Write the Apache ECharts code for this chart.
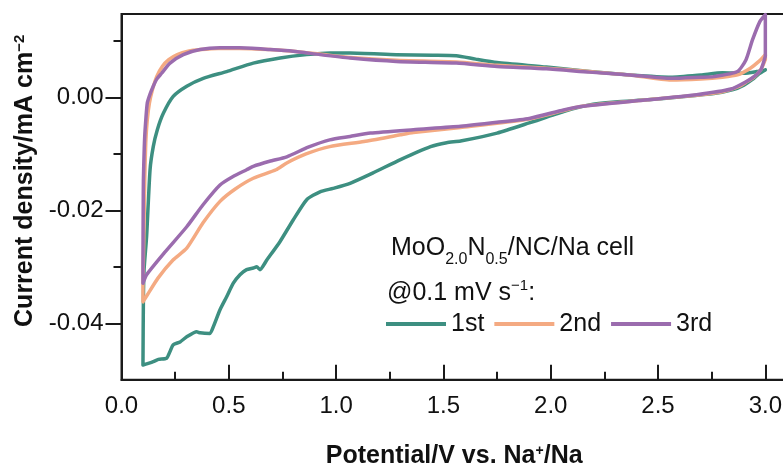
<!DOCTYPE html>
<html><head><meta charset="utf-8">
<script src="https://cdn.jsdelivr.net/npm/echarts@6/dist/echarts.min.js"></script>
<style>html,body{margin:0;padding:0;background:#fff}#c{width:783px;height:463px}</style>
</head><body><div id="c"></div>
<script>
// ---------- data ----------
const cycleNames = ['1st', '2nd', '3rd'];
const cycleColors = ['#3d8f81', '#f4aa82', '#9b6cae'];

// Cycle 1: cathodic 3.0 -> 0.1 V, then anodic 0.1 -> 3.0 V
const cycle1Potential = [3.00,2.97,2.94,2.90,2.85,2.76,2.60,2.45,2.30,2.18,2.06,1.90,1.75,1.58,1.515,1.44,1.30,1.17,1.065,0.986,0.925,0.863,0.80,0.739,0.677,0.645,0.630,0.614,0.583,0.552,0.521,0.490,0.459,0.428,0.412,0.366,0.350,0.304,0.273,0.241,0.226,0.210,0.172,0.148,0.125,0.100,
  0.102,0.105,0.117,0.133,0.148,0.167,0.195,0.241,0.304,0.381,0.490,0.614,0.739,0.863,0.972,1.065,1.28,1.45,1.56,1.65,1.75,1.98,2.18,2.37,2.56,2.70,2.80,2.90,2.96,3.00];
const cycle1Current = [0.0049,0.0042,0.0032,0.0022,0.0014,0.0007,0.0001,-0.0004,-0.0008,-0.0013,-0.0025,-0.0045,-0.0063,-0.0077,-0.0080,-0.0087,-0.0110,-0.0134,-0.0152,-0.0161,-0.0167,-0.0181,-0.0217,-0.0255,-0.0288,-0.0305,-0.0300,-0.0302,-0.0305,-0.0314,-0.0329,-0.0353,-0.0376,-0.0406,-0.0418,-0.0417,-0.0415,-0.0424,-0.0433,-0.0438,-0.0450,-0.0462,-0.0464,-0.0468,-0.0471,-0.0474,
  -0.0360,-0.0306,-0.0246,-0.0128,-0.0087,-0.0057,-0.0028,0.0002,0.0020,0.0034,0.0046,0.0061,0.0070,0.0076,0.0079,0.0079,0.0076,0.0075,0.0074,0.0068,0.0062,0.0054,0.0046,0.0040,0.0036,0.0040,0.0044,0.0043,0.0046,0.0049];

// Cycle 2
const cycle2Potential = [3.00,2.98,2.95,2.91,2.88,2.80,2.68,2.45,2.14,1.90,1.58,1.36,1.30,1.13,0.97,0.86,0.77,0.72,0.614,0.53,0.459,0.38,0.304,0.24,0.17,0.12,0.10,
  0.100,0.104,0.108,0.113,0.120,0.130,0.145,0.165,0.19,0.22,0.26,0.31,0.37,0.45,0.55,0.69,0.80,0.925,1.065,1.28,1.56,1.75,1.98,2.18,2.37,2.56,2.70,2.80,2.87,2.93,2.97,3.00,3.00];
const cycle2Current = [0.0067,0.0050,0.0037,0.0027,0.0020,0.0010,0.0004,-0.0004,-0.0016,-0.0038,-0.0053,-0.0062,-0.0066,-0.0078,-0.0087,-0.0100,-0.0116,-0.0128,-0.0143,-0.0162,-0.0184,-0.0222,-0.0267,-0.0288,-0.0320,-0.0350,-0.0362,
  -0.0335,-0.0250,-0.0150,-0.0080,-0.0040,-0.0010,0.0015,0.0038,0.0055,0.0067,0.0076,0.0082,0.0085,0.0087,0.0087,0.0085,0.0082,0.0077,0.0071,0.0066,0.0063,0.0057,0.0052,0.0046,0.0040,0.0031,0.0033,0.0036,0.0040,0.0052,0.0064,0.0076,0.0067];

// Cycle 3
const cycle3Potential = [3.00,2.98,2.95,2.91,2.84,2.68,2.45,2.14,2.06,1.90,1.75,1.58,1.36,1.16,1.065,0.97,0.87,0.77,0.69,0.614,0.583,0.52,0.459,0.38,0.304,0.20,0.117,0.100,
  0.100,0.101,0.102,0.106,0.110,0.120,0.133,0.148,0.165,0.187,0.226,0.288,0.366,0.459,0.55,0.692,0.80,0.925,1.065,1.28,1.56,1.75,1.98,2.18,2.37,2.56,2.70,2.76,2.87,2.91,2.94,2.975,3.00,3.00];
const cycle3Current = [0.0073,0.0050,0.0038,0.0028,0.0015,0.0005,-0.0004,-0.0016,-0.0022,-0.0037,-0.0044,-0.0051,-0.0057,-0.0063,-0.0069,-0.0075,-0.0088,-0.0105,-0.0113,-0.0122,-0.0128,-0.0140,-0.0155,-0.0190,-0.0229,-0.0275,-0.0314,-0.0329,
  -0.0300,-0.0200,-0.0146,-0.0090,-0.0057,-0.0010,0.0006,0.0020,0.0033,0.0043,0.0061,0.0076,0.0085,0.0088,0.0088,0.0085,0.0082,0.0076,0.0070,0.0064,0.0061,0.0055,0.0051,0.0045,0.0040,0.0034,0.0036,0.0037,0.0046,0.0067,0.0102,0.0135,0.0147,0.0073];

const xTickValues = [0, 0.5, 1.0, 1.5, 2.0, 2.5, 3.0];
const xMinorTickValues = [0.25, 0.75, 1.25, 1.75, 2.25, 2.75];
const yTickValues = [-0.04, -0.02, 0];
const yMinorTickValues = [-0.03, -0.01, 0.01];

// ---------- chart ----------
const potentials = [cycle1Potential, cycle2Potential, cycle3Potential];
const currents = [cycle1Current, cycle2Current, cycle3Current];
const font = '"Liberation Sans", Arial, Helvetica, sans-serif';
const ink = '#111';
const axisColor = '#1a1a1a';

const series = cycleNames.map((name, k) => ({
  name: name,
  type: 'line',
  xAxisIndex: 0,
  yAxisIndex: 0,
  data: potentials[k].map((v, i) => [v, currents[k][i]]),
  symbol: 'none',
  showSymbol: false,
  smooth: 0.2,
  clip: true,
  color: cycleColors[k],
  lineStyle: { width: 3.5, color: cycleColors[k], join: 'round', cap: 'round' },
  z: 2 + k
}));

const chart = echarts.init(document.getElementById('c'), null, { renderer: 'canvas' });
chart.setOption({
  animation: false,
  backgroundColor: '#ffffff',
  textStyle: { fontFamily: font },
  grid: { left: 121.5, top: 14, right: -3.8, bottom: 83.3, containLabel: false, outerBoundsMode: 'none', show: true, borderColor: axisColor, borderWidth: 2, backgroundColor: 'transparent' },
  xAxis: [{
    type: 'value', min: 0, max: 3.1, position: 'bottom',
    axisLine: { show: true, onZero: false, lineStyle: { color: axisColor, width: 2 } },
    axisTick: { show: true, inside: true, length: 15, customValues: xTickValues, lineStyle: { color: axisColor, width: 2 } },
    axisLabel: { show: true, customValues: xTickValues, formatter: v => v.toFixed(1), fontSize: 24, color: ink, fontFamily: font, margin: 15 },
    splitLine: { show: false },
    name: '{a|Potential/V vs. Na}{s|+}{a|/Na}',
    nameLocation: 'middle', nameGap: 64,
    nameTextStyle: {
      rich: {
        a: { fontSize: 25, fontWeight: 'bold', fontFamily: font, color: ink, verticalAlign: 'top', lineHeight: 26 },
        s: { fontSize: 14, fontWeight: 'bold', fontFamily: font, color: ink, verticalAlign: 'top', lineHeight: 14 }
      }
    }
  }, {
    type: 'value', min: 0, max: 3.1, position: 'bottom', gridIndex: 0, offset: 0,
    axisLine: { show: true, onZero: false, lineStyle: { color: 'rgba(0,0,0,0)', width: 0 } },
    axisTick: { show: true, inside: true, length: 8, customValues: xMinorTickValues, lineStyle: { color: axisColor, width: 2 } },
    axisLabel: { show: false },
    splitLine: { show: false }
  }],
  yAxis: [{
    type: 'value', min: -0.05, max: 0.0148, position: 'left',
    axisLine: { show: true, onZero: false, lineStyle: { color: axisColor, width: 2 } },
    axisTick: { show: true, inside: false, length: 16, customValues: yTickValues, lineStyle: { color: axisColor, width: 2 } },
    axisLabel: { show: true, customValues: yTickValues, formatter: v => (Math.abs(v) < 1e-9 ? 0 : v).toFixed(2), fontSize: 24, color: ink, fontFamily: font, margin: 18 },
    splitLine: { show: false },
    name: '{a|Current density/mA cm}{s|\u22122}',
    nameLocation: 'middle', nameGap: 83, nameRotate: 90,
    nameTextStyle: {
      padding: [0, 0, 0, 32],
      rich: {
        a: { fontSize: 25, fontWeight: 'bold', fontFamily: font, color: ink, verticalAlign: 'top', lineHeight: 26 },
        s: { fontSize: 15, fontWeight: 'bold', fontFamily: font, color: ink, verticalAlign: 'top', lineHeight: 15 }
      }
    }
  }, {
    type: 'value', min: -0.05, max: 0.0148, position: 'left', gridIndex: 0, offset: 0,
    axisLine: { show: true, onZero: false, lineStyle: { color: 'rgba(0,0,0,0)', width: 0 } },
    axisTick: { show: true, inside: false, length: 8, customValues: yMinorTickValues, lineStyle: { color: axisColor, width: 2 } },
    axisLabel: { show: false },
    splitLine: { show: false }
  }],
  legend: {
    data: cycleNames,
    left: 386, top: 311.5, padding: 0,
    orient: 'horizontal',
    icon: 'rect', itemWidth: 60, itemHeight: 4, itemGap: 10,
    textStyle: { fontSize: 25, color: ink, fontFamily: font, lineHeight: 25 }
  },
  graphic: [{
    type: 'text', left: 391, top: 236, z: 10,
    style: {
      text: '{a|MoO}{b|2.0}{a|N}{b|0.5}{a|/NC/Na cell}',
      rich: {
        a: { fontSize: 25, fontFamily: font, fill: ink, verticalAlign: 'top', lineHeight: 25 },
        b: { fontSize: 16, fontFamily: font, fill: ink, verticalAlign: 'top', lineHeight: 16, padding: [16, 0, 0, 0] }
      }
    }
  }, {
    type: 'text', left: 387, top: 278, z: 10,
    style: {
      text: '{a|@0.1 mV s}{p|\u22121}{a|:}',
      rich: {
        a: { fontSize: 25, fontFamily: font, fill: ink, verticalAlign: 'top', lineHeight: 25, padding: [3, 0, 0, 0] },
        p: { fontSize: 15, fontFamily: font, fill: ink, verticalAlign: 'top', lineHeight: 14 }
      }
    }
  }],
  series: series
});
</script>
</body></html>
